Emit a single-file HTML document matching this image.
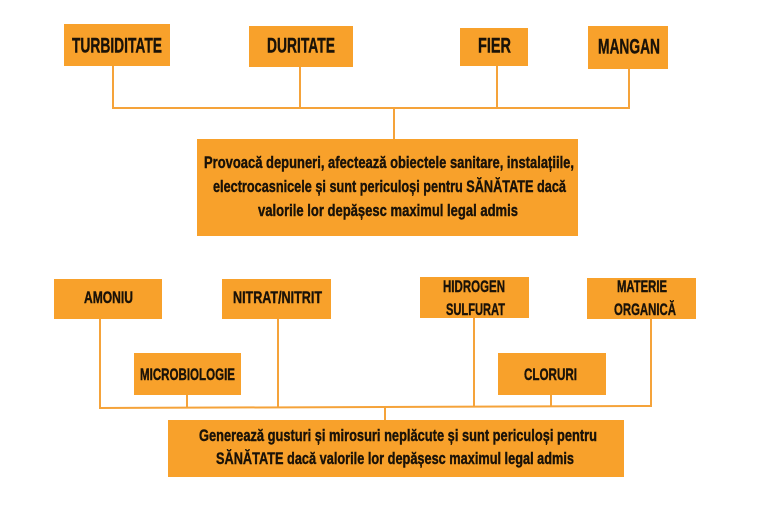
<!DOCTYPE html>
<html><head><meta charset="utf-8"><style>
html,body{margin:0;padding:0;background:#fff;}
svg{display:block;}
text{font-family:"Liberation Sans Narrow","Liberation Sans",sans-serif;font-weight:bold;fill:#1a1208;stroke:#1a1208;stroke-width:0.4;dominant-baseline:central;}
</style></head><body>
<svg width="768" height="512" viewBox="0 0 768 512" xmlns="http://www.w3.org/2000/svg">
<rect width="768" height="512" fill="#fff"/>
<g fill="none" stroke="#F5A33A" stroke-width="2">
<polyline points="113,66 113,108 629,108 629,69"/>
<line x1="300" y1="67" x2="300" y2="108"/>
<line x1="497" y1="66" x2="497" y2="108"/>
<line x1="394" y1="108" x2="394" y2="140"/>
<polyline points="100,319 100,408 651,406 651,319"/>
<line x1="187" y1="395" x2="187" y2="408"/>
<line x1="278" y1="319" x2="278" y2="408"/>
<line x1="474" y1="318" x2="474" y2="407"/>
<line x1="551" y1="395" x2="551" y2="407"/>
<line x1="385" y1="407" x2="385" y2="420"/>
</g>
<g fill="#F8A12B">
<rect x="64" y="24" width="106" height="42"/>
<rect x="249" y="26" width="104" height="41"/>
<rect x="460" y="28" width="68" height="38"/>
<rect x="588" y="26" width="80" height="43"/>
<rect x="197" y="139" width="381" height="97"/>
<rect x="54" y="279" width="108" height="40"/>
<rect x="222" y="279" width="109" height="40"/>
<rect x="420" y="277" width="109" height="41"/>
<rect x="587" y="278" width="109" height="41"/>
<rect x="134" y="353" width="107" height="42"/>
<rect x="498" y="353" width="108" height="42"/>
<rect x="168" y="420" width="456" height="57"/>
</g>
<g font-size="21">
<text x="72" y="46" textLength="90" lengthAdjust="spacingAndGlyphs">TURBIDITATE</text>
<text x="267" y="46" textLength="68" lengthAdjust="spacingAndGlyphs">DURITATE</text>
<text x="478" y="46" textLength="33" lengthAdjust="spacingAndGlyphs">FIER</text>
<text x="598" y="47" textLength="62" lengthAdjust="spacingAndGlyphs">MANGAN</text>
</g>
<g font-size="16.5">
<text x="204" y="163" textLength="370" lengthAdjust="spacingAndGlyphs">Provoacă depuneri, afectează obiectele sanitare, instalațiile,</text>
<text x="213" y="187" textLength="353" lengthAdjust="spacingAndGlyphs">electrocasnicele și sunt periculoși pentru SĂNĂTATE dacă</text>
<text x="258" y="211" textLength="260" lengthAdjust="spacingAndGlyphs">valorile lor depășesc maximul legal admis</text>
<text x="199" y="436" textLength="398" lengthAdjust="spacingAndGlyphs">Generează gusturi și mirosuri neplăcute și sunt periculoși pentru</text>
<text x="216" y="459" textLength="358" lengthAdjust="spacingAndGlyphs">SĂNĂTATE dacă valorile lor depășesc maximul legal admis</text>
</g>
<g font-size="16.5">
<text x="84" y="298" textLength="49" lengthAdjust="spacingAndGlyphs">AMONIU</text>
<text x="233" y="298" textLength="89" lengthAdjust="spacingAndGlyphs">NITRAT/NITRIT</text>
<text x="443" y="287" textLength="62" lengthAdjust="spacingAndGlyphs">HIDROGEN</text>
<text x="446" y="310" textLength="59" lengthAdjust="spacingAndGlyphs">SULFURAT</text>
<text x="617" y="287" textLength="50" lengthAdjust="spacingAndGlyphs">MATERIE</text>
<text x="614" y="310" textLength="62" lengthAdjust="spacingAndGlyphs">ORGANICĂ</text>
<text x="140" y="375" textLength="95" lengthAdjust="spacingAndGlyphs">MICROBIOLOGIE</text>
<text x="524" y="375" textLength="53" lengthAdjust="spacingAndGlyphs">CLORURI</text>
</g>
</svg>
</body></html>
